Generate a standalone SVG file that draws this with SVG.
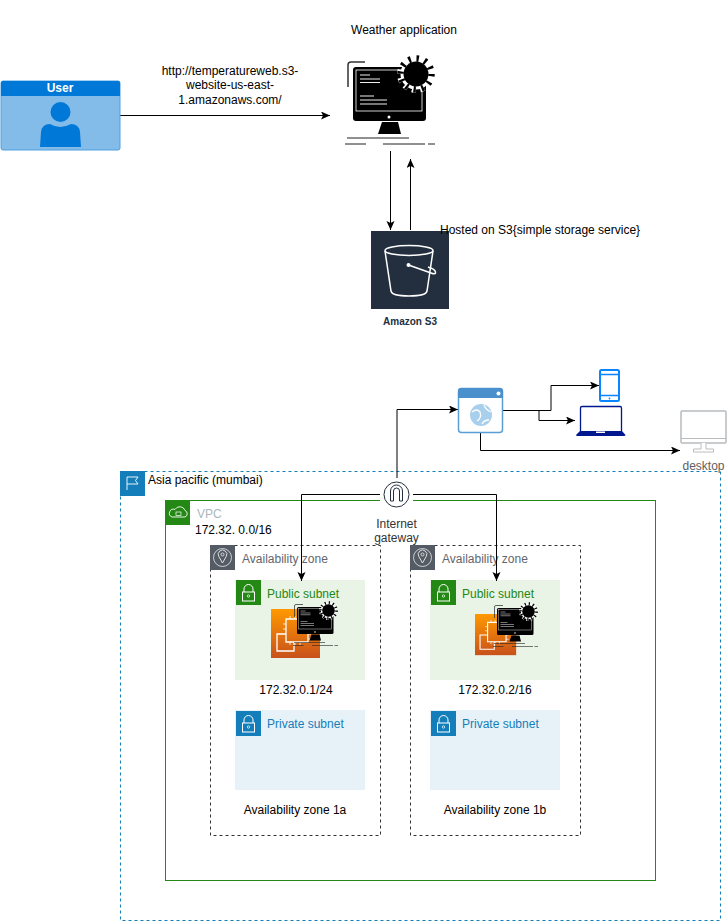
<svg xmlns="http://www.w3.org/2000/svg" width="728" height="921" viewBox="0 0 728 921">
<style>
text{font-family:"Liberation Sans",Arial,sans-serif;font-size:12px;fill:#000}
.c{text-anchor:middle}
.link{fill:none;stroke:#000;stroke-width:1}
</style>
<defs>
<marker id="arr" markerUnits="userSpaceOnUse" markerWidth="10" markerHeight="9" refX="9" refY="4" orient="auto"><path d="M0 0L9 4L0 8L2 4Z" fill="#000"/></marker>
<g id="computer">
<path d="M348 87V65Q348 62 351 62H365" fill="none" stroke="#333" stroke-width="1.500"/>
<rect x="353" y="67" width="73" height="54" rx="3" fill="#000"/>
<rect x="356" y="70" width="66" height="41" fill="none" stroke="#fff" stroke-width="0.800"/>
<path d="M360 75H370M360 79H380M360 82.500H380M360 96H374M360 100H387M360 104H387" stroke="#eee" stroke-width="1" fill="none"/>
<path d="M382 122H398L401 134H378Z" fill="#000"/>
<circle cx="389" cy="117" r="1.500" fill="#fff"/>
<path d="M347 138H409M345 144H366M383 144H425M428 144H435" stroke="#222" stroke-width="1.200" fill="none"/>
<circle cx="416" cy="74" r="15.500" fill="#fff"/>
<circle cx="416" cy="74" r="16" fill="none" stroke="#fff" stroke-width="6" stroke-dasharray="4 4.380"/>
<circle cx="416" cy="74" r="12.500" fill="#000"/>
<circle cx="416" cy="74" r="15.500" fill="none" stroke="#000" stroke-width="6.500" stroke-dasharray="2.400 5.720"/>
</g>
<g id="lock-green">
<rect width="25" height="25" fill="#248814"/>
<path d="M8 12V9A4.500 4.500 0 0 1 17 9V12" fill="none" stroke="#fff"/>
<rect x="6.500" y="12" width="12" height="9" fill="none" stroke="#fff"/>
<circle cx="12.500" cy="16" r="1.200" fill="none" stroke="#fff" stroke-width="0.700"/>
</g>
<g id="lock-blue">
<rect width="25" height="25" fill="#147eba"/>
<path d="M8 12V9A4.500 4.500 0 0 1 17 9V12" fill="none" stroke="#fff"/>
<rect x="6.500" y="12" width="12" height="9" fill="none" stroke="#fff"/>
<circle cx="12.500" cy="16" r="1.200" fill="none" stroke="#fff" stroke-width="0.700"/>
</g>
<g id="az-icon">
<rect width="25" height="25" fill="#545b64"/>
<circle cx="12.500" cy="12.500" r="9" fill="none" stroke="#fff" stroke-width="0.700"/>
<path d="M12.500 18L8.800 11.500A4.300 4.300 0 1 1 16.200 11.500Z" fill="none" stroke="#fff" stroke-width="0.800"/>
<circle cx="12.500" cy="9.500" r="1.500" fill="none" stroke="#fff" stroke-width="0.700"/>
</g>
<linearGradient id="ec2g" x1="0" y1="1" x2="0" y2="0"><stop offset="0" stop-color="#c8511b"/><stop offset="1" stop-color="#ff9900"/></linearGradient>
<g id="ec2">
<rect width="49" height="49" fill="url(#ec2g)"/>
<path d="M15 25H6V42H23V33M15 10H37V33H15Z" fill="none" stroke="#fff" stroke-width="1.300"/>
<path d="M19 10V7M24 10V7M29 10V7M34 10V7M37 15H40M37 20H40M37 25H40M37 30H40M19 33V36M24 33V36M29 33V36M15 15H12M15 20H12" stroke="#fff" stroke-width="0.800"/>
</g>
</defs>

<g id="aws-region">
<rect x="120.500" y="471.500" width="600" height="449" fill="none" stroke="#147eba" stroke-dasharray="3 3"/>
<rect x="120" y="471" width="25" height="25" fill="#147eba"/>
<path d="M127 490V477H138L135.500 480.500L138 484H127" fill="none" stroke="#fff" stroke-width="0.900"/>
<text x="148" y="484">Asia pacific (mumbai)</text>
</g>
<g id="vpc">
<rect x="165.500" y="500.500" width="490" height="380" fill="none" stroke="#248814"/>
<rect x="165" y="500" width="25" height="25" fill="#248814"/>
<path d="M172 517H185A3.500 3.500 0 0 0 185 510.500A5.500 5.500 0 0 0 175 509.500A4 4 0 0 0 172 517Z" fill="none" stroke="#fff" stroke-width="0.900"/>
<rect x="176" y="512" width="5" height="3.500" fill="none" stroke="#fff" stroke-width="0.700"/>
<text x="197" y="518" style="fill:#aab7b8">VPC</text>
<text x="195" y="534">172.32. 0.0/16</text>
</g>

<g id="az-a">
<rect x="210.500" y="545.500" width="170" height="290" fill="none" stroke="#333" stroke-dasharray="3 3"/>
<use href="#az-icon" x="210" y="545"/>
<text x="242" y="563" style="fill:#5f6670">Availability zone</text>
<text x="295" y="814" class="c">Availability zone 1a</text>
</g>
<g id="az-b">
<rect x="410.500" y="545.500" width="170" height="290" fill="none" stroke="#333" stroke-dasharray="3 3"/>
<use href="#az-icon" x="410" y="545"/>
<text x="442" y="563" style="fill:#5f6670">Availability zone</text>
<text x="495" y="814" class="c">Availability zone 1b</text>
</g>

<g id="public-subnet-a">
<rect x="235" y="580" width="130" height="100" fill="#e9f3e6"/>
<use href="#lock-green" x="236" y="580"/>
<text x="267" y="598" style="fill:#248814">Public subnet</text>
<use href="#ec2" x="271" y="609"/>
<use href="#computer" transform="translate(297 607) scale(0.5) translate(-353 -67)"/>
<text x="296" y="694" class="c">172.32.0.1/24</text>
</g>
<g id="public-subnet-b">
<rect x="430" y="580" width="130" height="100" fill="#e9f3e6"/>
<use href="#lock-green" x="431" y="580"/>
<text x="462" y="598" style="fill:#248814">Public subnet</text>
<use href="#ec2" transform="translate(475 614) scale(0.84)"/>
<use href="#computer" transform="translate(497 608) scale(0.5) translate(-353 -67)"/>
<text x="495" y="694" class="c">172.32.0.2/16</text>
</g>
<g id="private-subnet-a">
<rect x="235" y="710" width="130" height="80" fill="#e6f2f8"/>
<use href="#lock-blue" x="236" y="711"/>
<text x="267" y="728" style="fill:#147eba">Private subnet</text>
</g>
<g id="private-subnet-b">
<rect x="430" y="710" width="130" height="80" fill="#e6f2f8"/>
<use href="#lock-blue" x="431" y="711"/>
<text x="462" y="728" style="fill:#147eba">Private subnet</text>
</g>

<g id="igw">
<rect x="380" y="478" width="33" height="33" fill="#fff"/>
<circle cx="396.500" cy="494.500" r="12.500" fill="#fff" stroke="#232f3e"/>
<path d="M390.500 501V491A6 6 0 0 1 402.500 491V501H399.500V491A3 3 0 0 0 393.500 491V501Z" fill="none" stroke="#232f3e" stroke-width="1"/>
<text x="396.500" y="528" class="c" style="fill:#333">Internet</text>
<text x="396.500" y="542" class="c" style="fill:#333">gateway</text>
</g>

<g id="connectors">
<path class="link" d="M120 115.500H330" marker-end="url(#arr)"/>
<path class="link" d="M390.500 151V230" marker-end="url(#arr)"/>
<path class="link" d="M410.500 230V159" marker-end="url(#arr)"/>
<path class="link" d="M397 478V409.500H458" marker-end="url(#arr)"/>
<path class="link" d="M503 410.500H551V385.500H599" marker-end="url(#arr)"/>
<path class="link" d="M539 411V420.500H575" marker-end="url(#arr)"/>
<path class="link" d="M480.500 433V450.500H680" marker-end="url(#arr)"/>
<path class="link" d="M380 494.500H301.500V581" marker-end="url(#arr)"/>
<path class="link" d="M413 494.500H496.500V581" marker-end="url(#arr)"/>
</g>

<g id="user">
<rect x="1" y="81" width="119" height="69" rx="2" fill="#83bbe9" stroke="#4f9fe0"/>
<path d="M1 83Q1 81 3 81H118Q120 81 120 83V96H1Z" fill="#0078d7"/>
<text x="60" y="92" class="c" style="fill:#fff;font-weight:bold">User</text>
<circle cx="60.500" cy="112" r="10" fill="#0078d7"/>
<path d="M40 147L41 132Q42 124 50 124Q60 130 71 124Q79 124 80 132L81 147Z" fill="#0078d7"/>
</g>
<g id="url-label">
<text x="230" y="75" class="c">http://temperatureweb.s3-</text>
<text x="230" y="89" class="c">website-us-east-</text>
<text x="230" y="104" class="c">1.amazonaws.com/</text>
</g>
<g id="weather-app">
<use href="#computer"/>
<text x="404" y="34" class="c">Weather application</text>
</g>
<g id="s3">
<rect x="371" y="231" width="78" height="78" fill="#232f3e"/>
<ellipse cx="409" cy="250.500" rx="24" ry="5" fill="none" stroke="#fff" stroke-width="1.500"/>
<path d="M385 251L391 291Q392 296 409 296Q426 296 427 291L433 251" fill="none" stroke="#fff" stroke-width="1.500"/>
<circle cx="408.500" cy="265" r="2" fill="#fff"/>
<path d="M408.500 265L431 273Q436 275 435.500 272Q435 269 428 267" fill="none" stroke="#fff" stroke-width="1.500"/>
<text x="410" y="325" class="c" style="font-size:10px;font-weight:bold;fill:#232f3e">Amazon S3</text>
</g>
<text id="s3-label" x="440" y="234">Hosted on S3{simple storage service}</text>

<g id="browser">
<rect x="458.500" y="388.500" width="44" height="44" rx="3" fill="#fff" stroke="#5a9fd4" stroke-width="1.500"/>
<path d="M458 398V391Q458 388 461 388H500Q503 388 503 391V398Z" fill="#4a90cc"/>
<circle cx="498.500" cy="393.500" r="2" fill="#fff"/>
<circle cx="481" cy="415" r="11" fill="#a8cfec"/>
<path d="M472 412Q477 408 480 412Q482 418 477 421M484 405Q486 410 491 412M482 424Q484 420 489 420" fill="none" stroke="#fff" stroke-width="1.300"/>
</g>
<g id="phone">
<rect x="600" y="370" width="19" height="31" rx="1.500" fill="#fff" stroke="#0a84ff" stroke-width="2"/>
<path d="M601 374.500H618M601 395.500H618" stroke="#0a84ff" stroke-width="1.500"/>
<circle cx="609.500" cy="398.500" r="0.900" fill="#0a84ff"/>
</g>
<g id="laptop">
<rect x="580.500" y="406.500" width="41" height="26" rx="1.500" fill="#fff" stroke="#00188f" stroke-width="1.300"/>
<path d="M580 431H622L625.500 435Q625.500 436 624 436H577.500Q576 436 576 435Z" fill="#00188f"/>
<rect x="596" y="431.500" width="9" height="1.500" fill="#fff"/>
</g>
<g id="desktop">
<rect x="681" y="411" width="45" height="32" rx="1" fill="#fff" stroke="#b8bcbe" stroke-width="1.500"/>
<path d="M681 438.500H726" stroke="#b8bcbe" stroke-width="1"/>
<path d="M701 443V449H693.500V452H713.500V449H706V443" fill="#fff" stroke="#b8bcbe"/>
<text x="703.500" y="470" class="c" style="fill:#606060">desktop</text>
</g>
</svg>
